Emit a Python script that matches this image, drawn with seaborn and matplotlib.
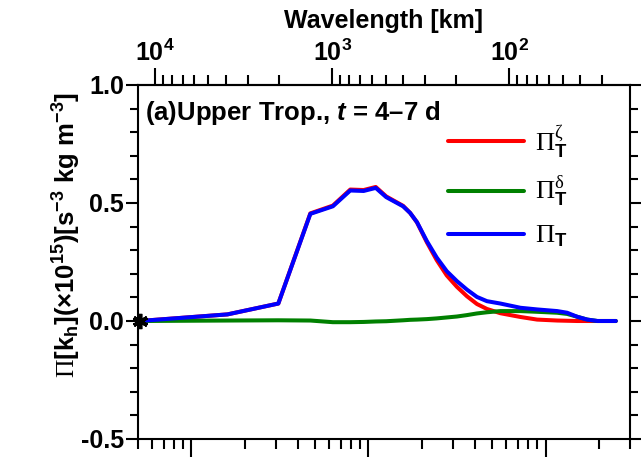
import numpy as np
import pandas as pd
import matplotlib
matplotlib.use("Agg")
import matplotlib.pyplot as plt
from matplotlib.ticker import FixedLocator, NullFormatter, LogFormatterSciNotation, MultipleLocator, FormatStrFormatter
import seaborn as sns

# horizontal wavenumber (bottom axis units); wavelength [km] = C / k
k = [5.1, 16, 31, 47, 63, 79, 94, 110, 126, 157, 172, 188, 214, 243, 277, 316,
     360, 410, 467, 556, 722, 897, 1164, 1325, 1510, 1720, 1963, 2494]
pi_zeta = [0.0, 0.028, 0.074, 0.456, 0.489, 0.557, 0.555, 0.568, 0.528, 0.488,
           0.458, 0.418, 0.333, 0.258, 0.193, 0.145, 0.105, 0.072, 0.051, 0.033, 0.017,
           0.006, 0.002, 0.001, 0.0, 0.0, 0.0, 0.0]
pi_delta = [0.0, 0.002, 0.003, 0.002, -0.005, -0.005, -0.004, -0.002, -0.001, 0.003,
            0.005, 0.006, 0.008, 0.011, 0.015, 0.019, 0.025, 0.032, 0.037, 0.042, 0.042,
            0.039, 0.035, 0.030, 0.018, 0.006, 0.0, 0.0]
pi_total = [0.0, 0.028, 0.074, 0.454, 0.486, 0.553, 0.551, 0.564, 0.525, 0.486,
            0.458, 0.419, 0.338, 0.269, 0.211, 0.169, 0.133, 0.102, 0.084, 0.074, 0.056,
            0.049, 0.042, 0.035, 0.018, 0.006, 0.0, 0.0]

top_major = [1e2, 1e3, 1e4]
y_major = [-0.5, 0.0, 0.5, 1.0]

C = 62500.0

sns.set_style("ticks")
plt.rcParams.update({
    "font.family": ["Liberation Sans", "DejaVu Sans"],
    "font.weight": "bold",
    "axes.labelweight": "bold",
    "text.color": "black",
    "axes.labelcolor": "black",
    "xtick.color": "black",
    "ytick.color": "black",
    "mathtext.fontset": "custom",
    "mathtext.rm": "Liberation Serif:regular",
    "mathtext.it": "Liberation Sans:italic:bold",
    "mathtext.bf": "Liberation Sans:bold",
    "mathtext.default": "regular",
    "axes.unicode_minus": False,
    "axes.linewidth": 1.5,
    "axes.edgecolor": "black",
})

df = pd.DataFrame({"k": k, "zeta": pi_zeta, "delta": pi_delta, "total": pi_total})

fig = plt.figure(figsize=(6.41, 4.58), dpi=100)
ax = fig.add_axes([138/641, 19/458, 492/641, 354/458])

lw = 2.9
sns.lineplot(data=df, x="k", y="zeta", color="#ff0000", lw=lw, ax=ax,
             label=r"$\mathrm{\Pi}_{T}^{\mathrm{\zeta}}$")
sns.lineplot(data=df, x="k", y="delta", color="#008000", lw=lw, ax=ax,
             label=r"$\mathrm{\Pi}_{T}^{\mathrm{\delta}}$")
sns.lineplot(data=df, x="k", y="total", color="#0000ff", lw=lw, ax=ax,
             label=r"$\mathrm{\Pi}_{T}$")
ax.plot([k[0]], [pi_total[0]], marker=(6, 2, 0), color="black", ms=11, mew=2.6,
        clip_on=False, zorder=5)

ax.set_xscale("log")
ax.set_xlim(5, 3000)
ax.set_ylim(-0.5, 1.0)

bot_minor = [m * 10 ** e for e in range(0, 4) for m in range(2, 10) if 5 <= m * 10 ** e <= 3000]
ax.xaxis.set_major_locator(FixedLocator([10, 100, 1000]))
ax.xaxis.set_minor_locator(FixedLocator(bot_minor))
ax.xaxis.set_major_formatter(NullFormatter())
ax.xaxis.set_minor_formatter(NullFormatter())
ax.yaxis.set_major_locator(FixedLocator(y_major))
ax.yaxis.set_minor_locator(MultipleLocator(0.1))
ax.yaxis.set_major_formatter(FormatStrFormatter("%.1f"))

ax.tick_params(which="both", direction="out", top=False, bottom=True, left=True,
               right=True, labelright=False, width=1.5, color="black")
ax.tick_params(axis="x", which="major", length=13)
ax.tick_params(axis="x", which="minor", length=7)
ax.tick_params(axis="y", which="major", length=9, labelsize=18, pad=1)
ax.tick_params(axis="y", which="minor", length=6)
for lab in ax.get_yticklabels():
    lab.set_fontweight("bold")

ax.set_xlabel("")
ax.set_ylabel(r"$\mathrm{\Pi}$[k$_{h}$](×10$^{15}$)[s$^{-3}$ kg m$^{-3}$]",
              fontsize=18.5, fontweight="bold")
ax.yaxis.set_label_coords(-0.112, 0.577)


def k2lam(x):
    x = np.asarray(x, dtype=float)
    with np.errstate(divide="ignore", invalid="ignore"):
        return C / x


sec = ax.secondary_xaxis("top", functions=(k2lam, k2lam))
top_minor = [m * 10 ** e for e in range(1, 4) for m in range(2, 10)]
sec.xaxis.set_major_locator(FixedLocator(top_major))
sec.xaxis.set_minor_locator(FixedLocator(top_minor))
sec.xaxis.set_major_formatter(LogFormatterSciNotation())
sec.xaxis.set_minor_formatter(NullFormatter())
sec.tick_params(which="both", direction="out", width=1.5, color="black")
sec.tick_params(which="major", length=12, labelsize=18, pad=2)
sec.tick_params(which="minor", length=7)
sec.spines["top"].set_linewidth(1.5)
sec.set_xlabel("Wavelength [km]", fontsize=18, fontweight="bold", labelpad=8)

ax.text(0.014, 0.921, r"(a)Upper Trop., $\mathit{t}$ = 4–7 d", transform=ax.transAxes,
        fontsize=18.5, ha="left", va="center")

leg = ax.legend(loc="upper left", bbox_to_anchor=(0.630, 0.893), frameon=False,
                fontsize=19, handlelength=2.9, handletextpad=0.4,
                borderpad=0, borderaxespad=0, labelspacing=0.55)

fig.savefig("out.png", dpi=100)
